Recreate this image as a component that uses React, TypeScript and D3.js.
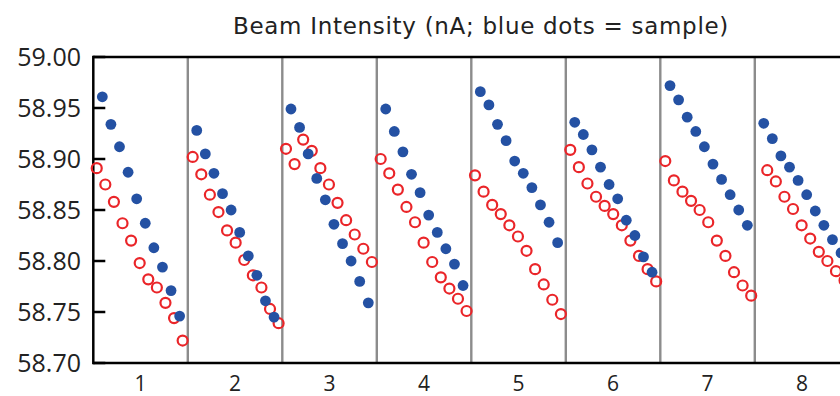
import * as d3 from 'd3';

const GROUPS = ['1', '2', '3', '4', '5', '6', '7', '8'];
const Y_TICKS = [58.7, 58.75, 58.8, 58.85, 58.9, 58.95, 59.0];

// slot where the first point of each group sits (11 slots per group)
const SAMPLE_START = [1.05, 1.04, 1.01, 1.04, 1.05, 1.04, 1.13, 1.04];
const STANDARD_START = [0.4, 0.57, 0.43, 0.45, 0.43, 0.52, 0.58, 1.45];

// blue dots: sample
const SAMPLE_VALUES = [
  [58.961, 58.934, 58.912, 58.887, 58.861, 58.837, 58.813, 58.794, 58.771, 58.746],
  [58.928, 58.905, 58.886, 58.866, 58.85, 58.828, 58.805, 58.786, 58.761, 58.745],
  [58.949, 58.931, 58.905, 58.881, 58.86, 58.836, 58.817, 58.8, 58.78, 58.759],
  [58.949, 58.927, 58.907, 58.885, 58.867, 58.845, 58.828, 58.812, 58.797, 58.776],
  [58.966, 58.953, 58.934, 58.918, 58.898, 58.886, 58.872, 58.855, 58.838, 58.818],
  [58.936, 58.924, 58.909, 58.892, 58.875, 58.861, 58.84, 58.825, 58.804, 58.789],
  [58.972, 58.958, 58.941, 58.927, 58.912, 58.895, 58.88, 58.865, 58.85, 58.835],
  [58.935, 58.92, 58.903, 58.892, 58.879, 58.865, 58.849, 58.835, 58.821, 58.808],
];

// red rings: standard
const STANDARD_VALUES = [
  [58.891, 58.875, 58.858, 58.837, 58.82, 58.798, 58.782, 58.774, 58.759, 58.744, 58.722],
  [58.902, 58.885, 58.865, 58.848, 58.83, 58.818, 58.801, 58.786, 58.774, 58.753, 58.739],
  [58.91, 58.895, 58.919, 58.908, 58.891, 58.875, 58.857, 58.84, 58.826, 58.812, 58.799],
  [58.9, 58.886, 58.87, 58.853, 58.838, 58.818, 58.799, 58.784, 58.773, 58.763, 58.751],
  [58.884, 58.868, 58.855, 58.846, 58.835, 58.824, 58.81, 58.792, 58.777, 58.762, 58.748],
  [58.909, 58.892, 58.876, 58.863, 58.854, 58.846, 58.835, 58.82, 58.805, 58.792, 58.78],
  [58.898, 58.879, 58.868, 58.859, 58.85, 58.838, 58.82, 58.805, 58.789, 58.776, 58.766],
  [58.889, 58.878, 58.863, 58.851, 58.835, 58.822, 58.809, 58.8, 58.79, 58.781],
];

const SLOTS = 11;
const BLUE = '#2451a3';
const RED = '#ea2529';
const FONT = '"Open Sans", sans-serif';

export default function App() {
  const width = 840;
  const height = 396;
  const left = 93.3;
  const right = 849.3;
  const top = 57;
  const bottom = 363;

  const band = d3.scaleBand<string>().domain(GROUPS).range([left, right]).padding(0);
  const slot = d3.scaleLinear().domain([0, SLOTS]).range([0, band.bandwidth()]);
  const y = d3.scaleLinear().domain([58.7, 59.0]).range([bottom, top]);

  const px = (g: number, i: number, start: number[]) => band(GROUPS[g])! + slot(start[g] + i);

  return (
    <svg
      width={width}
      height={height}
      style={{ position: 'absolute', left: 0, top: 0, background: '#fff' }}
      fontFamily={FONT}
    >
      <text
        x={481}
        y={34}
        textAnchor="middle"
        fontSize={23}
        letterSpacing={0.7}
        fontFamily='"DejaVu Sans", sans-serif'
        fill="#222"
      >
        Beam Intensity (nA; blue dots = sample)
      </text>

      {/* group separators */}
      {GROUPS.slice(1).map((g) => (
        <line key={g} x1={band(g)} x2={band(g)} y1={top} y2={bottom} stroke="#8c8c8c" strokeWidth={2.4} />
      ))}

      {/* frame */}
      <line x1={left} x2={width} y1={top} y2={top} stroke="#000" strokeWidth={2.5} />
      <line x1={left} x2={width} y1={bottom} y2={bottom} stroke="#000" strokeWidth={2.5} />
      <line x1={left} x2={left} y1={top - 1.25} y2={bottom + 1.25} stroke="#000" strokeWidth={2.5} />

      {Y_TICKS.map((t) => (
        <g key={t}>
          <line x1={left} x2={left + 12} y1={y(t)} y2={y(t)} stroke="#000" strokeWidth={2.5} />
          <text x={81} y={y(t) + 9} textAnchor="end" fontSize={25} fill="#222">
            {t.toFixed(2)}
          </text>
        </g>
      ))}

      {GROUPS.map((g) => (
        <text key={g} x={band(g)! + band.bandwidth() / 2} y={391} textAnchor="middle" fontSize={21} fill="#222">
          {g}
        </text>
      ))}

      {STANDARD_VALUES.map((vals, g) =>
        vals.map((v, i) => (
          <circle
            key={`r${g}-${i}`}
            cx={px(g, i, STANDARD_START)}
            cy={y(v)}
            r={5}
            fill="none"
            stroke={RED}
            strokeWidth={2.2}
          />
        )),
      )}

      {SAMPLE_VALUES.map((vals, g) =>
        vals.map((v, i) => (
          <circle key={`b${g}-${i}`} cx={px(g, i, SAMPLE_START)} cy={y(v)} r={5.4} fill={BLUE} />
        )),
      )}
    </svg>
  );
}
